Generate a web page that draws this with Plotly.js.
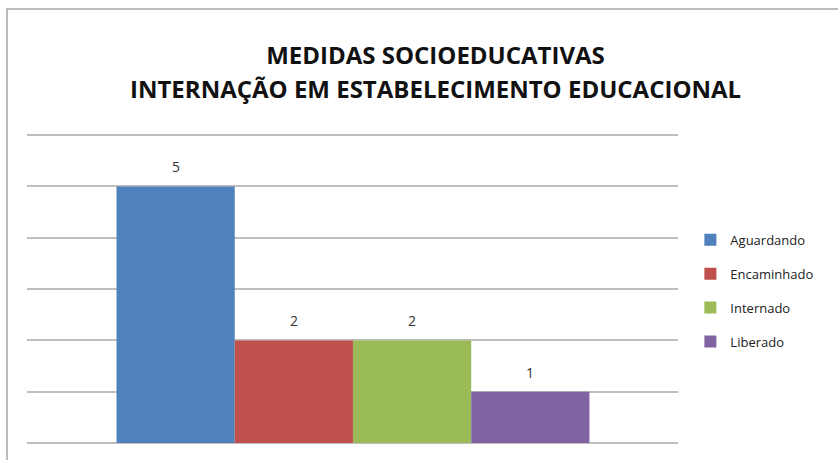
<!DOCTYPE html>
<html>
<head>
<meta charset="utf-8">
<script src="https://cdn.plot.ly/plotly-3.0.1.min.js"></script>
<style>
  body { margin: 0; background: #fff; }
  #chart { width: 838px; height: 460px; }
</style>
</head>
<body>
<div id="chart"></div>
<script>
// four series, each drawn as one bar side by side (Excel style)
var series = ["Aguardando", "Encaminhado", "Internado", "Liberado"];
var valores = [5, 2, 2, 1];
var cores = ["#4f81bd", "#c0504d", "#9bbb59", "#8064a2"];
var titulo1 = "MEDIDAS SOCIOEDUCATIVAS";
var titulo2 = "INTERNAÇÃO EM ESTABELECIMENTO EDUCACIONAL";

var traces = [];
var rotulos = [];
for (let i = 0; i < series.length; i++) {
	traces.push({
		type: 'bar',
		name: series[i],
		legendgroup: series[i],
		x: [i],
		y: [valores[i]],
		width: 1,
		marker: {color: cores[i]}
	});
	// value label above each bar
	rotulos.push({
		xref: 'x', yref: 'y',
		x: i, y: valores[i],
		text: String(valores[i]),
		showarrow: false,
		yanchor: 'bottom',
		yshift: 8,
		font: {family: 'Open Sans, sans-serif', size: 14, color: '#333'}
	});
}

// second title line, kept apart so the line gap matches
rotulos.push({
	xref: 'paper', yref: 'paper',
	x: 0.6275, y: 1.134,
	xanchor: 'center', yanchor: 'middle',
	text: "<b>" + titulo2 + "</b>",
	showarrow: false,
	font: {family: 'Open Sans, sans-serif', size: 24, color: '#111'}
});

var layout = {
	width: 838,
	height: 460,
	margin: {l: 27, r: 160, t: 130, b: 17},
	paper_bgcolor: '#fff',
	plot_bgcolor: '#fff',
	showlegend: true,
	barmode: 'overlay',
	title: {
		text: "<b>" + titulo1 + "</b>",
		font: {family: 'Open Sans, sans-serif', size: 24, color: '#111'},
		x: 0.5197,
		xanchor: 'center',
		y: 0.880,
		yanchor: 'middle'
	},
	xaxis: {
		range: [-1.257, 4.249],
		showticklabels: false,
		showgrid: false,
		zeroline: false,
		showline: false,
		fixedrange: true
	},
	yaxis: {
		range: [0, 6.1],
		dtick: 1,
		showticklabels: false,
		showgrid: true,
		gridcolor: '#bfbfbf',
		gridwidth: 2,
		zeroline: true,
		zerolinecolor: '#bfbfbf',
		zerolinewidth: 2,
		showline: false
	},
	legend: {
		x: 1.019,
		xanchor: 'left',
		y: 0.697,
		yanchor: 'top',
		traceorder: 'grouped',
		tracegroupgap: 14,
		itemwidth: 30,
		font: {family: 'Open Sans, sans-serif', size: 13, color: '#222'}
	},
	annotations: rotulos,
	shapes: [{
		type: 'rect',
		xref: 'paper', yref: 'paper',
		x0: -0.0307, x1: 1.35,
		y0: -0.2, y1: 1.3866,
		line: {color: '#a6a6a6', width: 1.5},
		fillcolor: 'rgba(0,0,0,0)',
		layer: 'below'
	}]
};

Plotly.newPlot('chart', traces, layout, {displayModeBar: false, staticPlot: true});
</script>
</body>
</html>
